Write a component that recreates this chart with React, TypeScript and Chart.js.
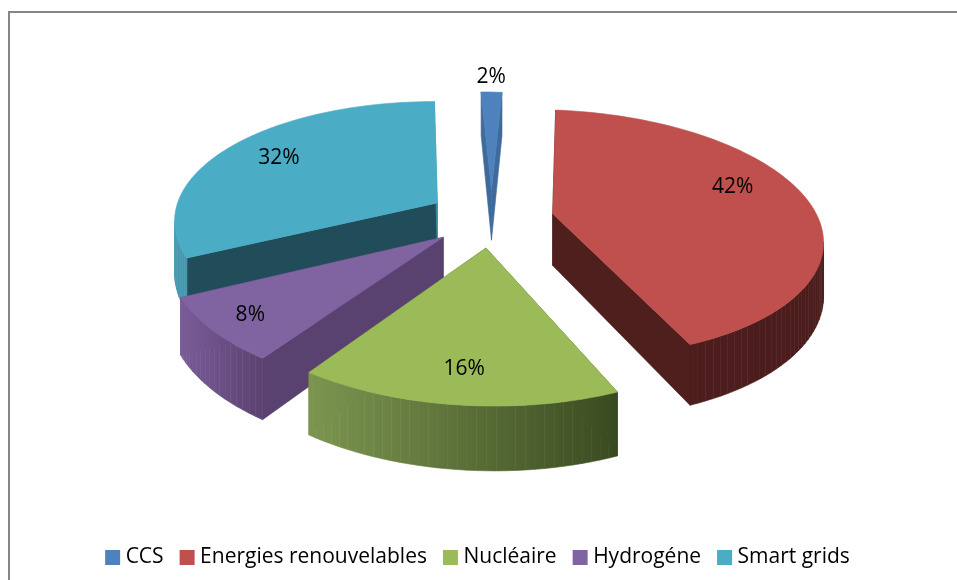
import React, { useEffect, useRef } from "react";
import { Chart, registerables } from "chart.js";

Chart.register(...registerables);

const categories = ["CCS", "Energies renouvelables", "Nucléaire", "Hydrogéne", "Smart grids"];
const shares = [1.5, 42.3, 16, 8, 32.2];
const topColors = ["#4f81bd", "#c0504d", "#9bbb59", "#8064a2", "#4bacc6"];
const wallLeft = ["#3f6a9c", "#4f1f1d", "#7c9650", "#7a5c98", "#4698ae"];
const wallRight = ["#3f6a9c", "#4a1c1b", "#3a4a20", "#5b4270", "#3a8ea6"];
const startFace = ["#3f6a9c", "#4f1f1d", "#4f6a2c", "#5a4270", "#214d5a"];
const endFace = ["#3f6a9c", "#4f1f1d", "#4f6a2c", "#5a4270", "#3e90a7"];
const labelFraction = [1.18, 0.76, 0.8, 0.85, 0.76];
const labelTurn = [0, -9, 0, 0, 0];

const CX = 491, CY = 218, RX = 265, RY = 122, PERSP = 0.16, DEPTH = 52, EXPLODE = 0.238, SHEAR = 10;
type P = [number, number];

function project(u: number, v: number, h: number): P {
  const w = 1 - PERSP * v;
  return [CX + (RX * u) / w + SHEAR * v, CY + (RY * v) / w + (h * DEPTH) / w];
}
function signedArea(pts: P[]) {
  let s = 0;
  pts.forEach((p, i) => {
    const q = pts[(i + 1) % pts.length];
    s += p[0] * q[1] - q[0] * p[1];
  });
  return s / 2;
}
function poly(ctx: CanvasRenderingContext2D, pts: P[], fill: string | CanvasGradient) {
  ctx.beginPath();
  pts.forEach((p, i) => (i ? ctx.lineTo(p[0], p[1]) : ctx.moveTo(p[0], p[1])));
  ctx.closePath();
  ctx.fillStyle = fill;
  ctx.strokeStyle = fill;
  ctx.lineWidth = 0.6;
  ctx.fill();
  ctx.stroke();
}

const framePlugin = {
  id: "frame",
  beforeDraw(chart: any) {
    const ctx = chart.ctx;
    ctx.save();
    ctx.fillStyle = "#ffffff";
    ctx.fillRect(0, 0, chart.width, chart.height);
    ctx.fillStyle = "#868686";
    ctx.fillRect(8, 11, chart.width - 8, 2);
    ctx.fillRect(8, 11, 2, chart.height - 11);
    ctx.restore();
  },
};

const pie3dPlugin = {
  id: "pie3d",
  beforeDatasetDraw(chart: any) {
    const ctx: CanvasRenderingContext2D = chart.ctx;
    const arcs = chart.getDatasetMeta(0).data;
    const total = shares.reduce((a, b) => a + b, 0);
    const order = arcs
      .map((el: any, i: number) => ({ el, i, m: (el.startAngle + el.endAngle) / 2 }))
      .sort((a: any, b: any) => Math.sin(a.m) - Math.sin(b.m));
    ctx.save();
    for (const { el, i, m } of order) {
      const ox = EXPLODE * Math.cos(m), oy = EXPLODE * Math.sin(m);
      const n = Math.max(4, Math.ceil((el.endAngle - el.startAngle) / 0.03));
      const rim: [number, number][] = [];
      for (let k = 0; k <= n; k++) {
        const a = el.startAngle + ((el.endAngle - el.startAngle) * k) / n;
        rim.push([ox + Math.cos(a), oy + Math.sin(a)]);
      }
      const T = (q: number[]) => project(q[0], q[1], 0);
      const B = (q: number[]) => project(q[0], q[1], 1);
      const apex = [ox, oy];
      const first = rim[0], last = rim[rim.length - 1];
      poly(ctx, [T(apex), T(first), B(first), B(apex)], startFace[i]);
      poly(ctx, [T(last), T(apex), B(apex), B(last)], endFace[i]);
      const xs = rim.map((q) => T(q)[0]);
      const grad = ctx.createLinearGradient(Math.min(...xs), 0, Math.max(...xs), 0);
      grad.addColorStop(0, wallLeft[i]);
      grad.addColorStop(1, wallRight[i]);
      for (let k = 0; k < n; k++) {
        const q = [T(rim[k]), T(rim[k + 1]), B(rim[k + 1]), B(rim[k])];
        if (signedArea(q) < 0) poly(ctx, q, grad);
      }
      poly(ctx, [T(apex), ...rim.map(T)], topColors[i]);
    }
    ctx.fillStyle = "#000000";
    ctx.font = '21px "Open Sans", sans-serif';
    ctx.textAlign = "center";
    ctx.textBaseline = "middle";
    arcs.forEach((el: any, i: number) => {
      const m = (el.startAngle + el.endAngle) / 2;
      const ox = EXPLODE * Math.cos(m), oy = EXPLODE * Math.sin(m);
      const a = m + (labelTurn[i] * Math.PI) / 180;
      const r = labelFraction[i];
      const p = project(ox + r * Math.cos(a), oy + r * Math.sin(a), 0);
      ctx.fillText(Math.round((shares[i] / total) * 100) + "%", p[0], p[1]);
    });
    ctx.restore();
    return false;
  },
};

export default function App() {
  const ref = useRef<HTMLCanvasElement>(null);
  useEffect(() => {
    const base = (Chart as any).overrides.pie.plugins.legend.labels.generateLabels;
    const chart = new Chart(ref.current!, {
      type: "pie",
      data: {
        labels: categories,
        datasets: [{ data: shares, backgroundColor: topColors, borderWidth: 0 }],
      },
      options: {
        responsive: false,
        animation: false,
        layout: { padding: { left: 3, bottom: 2 } },
        plugins: {
          tooltip: { enabled: false },
          legend: {
            position: "bottom",
            labels: {
              font: { family: '"Open Sans", sans-serif', size: 21 },
              color: "#000000",
              boxWidth: 5,
              boxHeight: 5,
              padding: 21,
              generateLabels: (c: any) =>
                base(c).map((l: any) => ({ ...l, strokeStyle: l.fillStyle, lineWidth: 10 })),
            },
          },
        },
      },
      plugins: [framePlugin, pie3dPlugin],
    } as any);
    return () => chart.destroy();
  }, []);
  return (
    <div style={{ position: "absolute", left: 0, top: 0, width: 957, height: 580, overflow: "hidden", background: "#fff" }}>
      <canvas ref={ref} width={957} height={580} style={{ display: "block" }} />
    </div>
  );
}
